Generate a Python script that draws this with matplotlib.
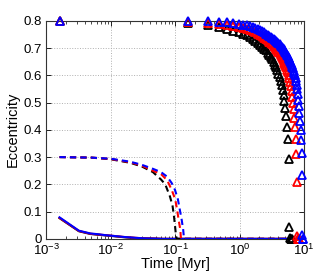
import numpy as np
import matplotlib
matplotlib.use("Agg")
import matplotlib.pyplot as plt
from matplotlib.ticker import LogLocator, NullFormatter

plt.rcParams['font.family'] = ['Liberation Sans', 'DejaVu Sans']
plt.rcParams['mathtext.default'] = 'regular'

# -----------------------------
# Data
# -----------------------------
# output times of the triangle series [Myr]
t_out = [0.0016, 0.16, 0.32, 0.48, 0.64, 0.80, 0.96, 1.12, 1.28, 1.44,
         1.60, 1.76, 1.92, 2.08, 2.24, 2.40, 2.56, 2.72, 2.88, 3.04,
         3.20, 3.36, 3.52, 3.68, 3.84, 4.00, 4.16, 4.32, 4.48, 4.64,
         4.80, 4.96, 5.12, 5.28, 5.44, 5.60, 5.76, 5.92, 6.08, 6.24,
         6.40, 6.56, 6.72, 6.88, 7.04, 7.20, 7.36, 7.52, 7.68, 7.84,
         8.00, 8.16, 8.32, 8.48, 8.64, 8.80, 8.96, 9.12, 9.28, 9.44,
         9.60, 9.76]

e_tri_black = [0.800, 0.793, 0.785, 0.777, 0.770, 0.764, 0.758, 0.752, 0.746, 0.740,
               0.733, 0.726, 0.719, 0.712, 0.705, 0.698, 0.691, 0.683, 0.675, 0.667,
               0.658, 0.649, 0.639, 0.629, 0.618, 0.606, 0.594, 0.580, 0.565, 0.547,
               0.527, 0.505, 0.480, 0.450, 0.410, 0.365, 0.293, 0.045, 0.005, 0.0,
               0.0, 0.0]

e_tri_red = [0.800, 0.797, 0.793, 0.789, 0.785, 0.781, 0.777, 0.773, 0.769, 0.765,
             0.761, 0.757, 0.753, 0.748, 0.743, 0.738, 0.733, 0.728, 0.723, 0.718,
             0.713, 0.708, 0.703, 0.698, 0.692, 0.686, 0.680, 0.674, 0.667, 0.660,
             0.653, 0.646, 0.638, 0.630, 0.621, 0.612, 0.602, 0.590, 0.576, 0.560,
             0.542, 0.522, 0.500, 0.475, 0.445, 0.410, 0.365, 0.310, 0.210, 0.012,
             0.0, 0.0, 0.0, 0.0]

e_tri_blue = [0.800, 0.800, 0.798, 0.796, 0.794, 0.792, 0.789, 0.786, 0.783, 0.780,
              0.777, 0.773, 0.769, 0.765, 0.761, 0.757, 0.753, 0.749, 0.745, 0.741,
              0.737, 0.733, 0.729, 0.725, 0.721, 0.717, 0.713, 0.709, 0.705, 0.700,
              0.696, 0.691, 0.686, 0.681, 0.676, 0.670, 0.664, 0.658, 0.652, 0.646,
              0.639, 0.632, 0.625, 0.617, 0.609, 0.600, 0.590, 0.578, 0.565, 0.550,
              0.532, 0.510, 0.487, 0.460, 0.432, 0.400, 0.363, 0.314, 0.234, 0.015,
              0.0, 0.0]

# dashed curves (second planet)
t_dash_black = [0.0016, 0.005, 0.01, 0.02, 0.03, 0.045, 0.06, 0.07, 0.083, 0.091,
                0.096, 0.100, 0.103, 0.106, 10.0]
e_dash_black = [0.300, 0.298, 0.292, 0.279, 0.266, 0.245, 0.218, 0.200, 0.155, 0.120,
                0.080, 0.040, 0.010, 0.0, 0.0]

t_dash_red = [0.0016, 0.005, 0.01, 0.02, 0.03, 0.045, 0.06, 0.075, 0.088, 0.100,
              0.107, 0.113, 0.120, 0.122, 0.125, 10.0]
e_dash_red = [0.300, 0.298, 0.293, 0.281, 0.269, 0.250, 0.238, 0.215, 0.180, 0.145,
              0.106, 0.070, 0.033, 0.008, 0.0, 0.0]

t_dash_blue = [0.0016, 0.005, 0.01, 0.02, 0.03, 0.045, 0.06, 0.075, 0.088, 0.099,
               0.110, 0.118, 0.126, 0.133, 0.136, 0.140, 10.0]
e_dash_blue = [0.300, 0.298, 0.294, 0.283, 0.272, 0.257, 0.245, 0.228, 0.205, 0.180,
               0.145, 0.106, 0.070, 0.033, 0.008, 0.0, 0.0]

# solid curves (inner planet)
t_solid = [0.0016, 0.0032, 0.0048, 0.0064, 0.008, 0.012, 0.016, 0.024, 0.032, 0.048,
           0.064, 0.1, 10.0]
e_solid_black = [0.076, 0.028, 0.018, 0.015, 0.013, 0.009, 0.006, 0.003, 0.002, 0.001,
                 0.0, 0.0, 0.0]
e_solid_red = [0.077, 0.029, 0.019, 0.016, 0.014, 0.010, 0.007, 0.004, 0.002, 0.001,
               0.0, 0.0, 0.0]
e_solid_blue = [0.079, 0.030, 0.020, 0.017, 0.014, 0.010, 0.007, 0.004, 0.002, 0.001,
                0.0, 0.0, 0.0]

y_ticks = [0, 0.1, 0.2, 0.3, 0.4, 0.5, 0.6, 0.7, 0.8]
y_ticklabels = ['0', '0.1', '0.2', '0.3', '0.4', '0.5', '0.6', '0.7', '0.8']

# -----------------------------
# Plot
# -----------------------------
fig = plt.figure(figsize=(3.36, 2.73), dpi=100)
ax = fig.add_axes([0.138, 0.125, 0.767, 0.799])

colors = ['k', 'r', 'b']
solids = [e_solid_black, e_solid_red, e_solid_blue]
dashes_t = [t_dash_black, t_dash_red, t_dash_blue]
dashes_e = [e_dash_black, e_dash_red, e_dash_blue]
tris = [e_tri_black, e_tri_red, e_tri_blue]

for c, es in zip(colors, solids):
    ax.plot(t_solid, es, '-', color=c, lw=1.5, zorder=3)
for c, td, ed in zip(colors, dashes_t, dashes_e):
    ax.plot(td, ed, '--', color=c, lw=1.5, dashes=(3, 2), zorder=3)
for c, et in zip(colors, tris):
    ax.plot(t_out[:len(et)], et, '^', color=c, mfc='none', ms=5.5, mew=1.3,
            linestyle='none', clip_on=False, zorder=4)

ax.set_xscale('log')
ax.set_xlim(1e-3, 10)
ax.set_ylim(0, 0.8)
ax.set_yticks(y_ticks)
ax.set_yticklabels(y_ticklabels)
ax.xaxis.set_major_locator(LogLocator(base=10, numticks=10))
ax.xaxis.set_minor_locator(LogLocator(base=10, subs=np.arange(2, 10), numticks=20))
ax.xaxis.set_minor_formatter(NullFormatter())

ax.tick_params(which='both', direction='in', top=True, right=True, labelsize=9.5)
ax.tick_params(axis='x', which='major', pad=3)
ax.tick_params(axis='y', which='major', pad=3.5)
ax.tick_params(which='major', length=3.5, width=0.6)
ax.tick_params(which='minor', length=2, width=0.5)
for s in ax.spines.values():
    s.set_linewidth(0.8)
    s.set_color('#333333')

ax.grid(True, which='major', linestyle=':', color='#b0b0b0', linewidth=0.7)
ax.set_axisbelow(True)

ax.set_xlabel('Time [Myr]', fontsize=10.5, labelpad=-1)
ax.set_ylabel('Eccentricity', fontsize=10.5, labelpad=2)

fig.savefig('out.png', dpi=100)
